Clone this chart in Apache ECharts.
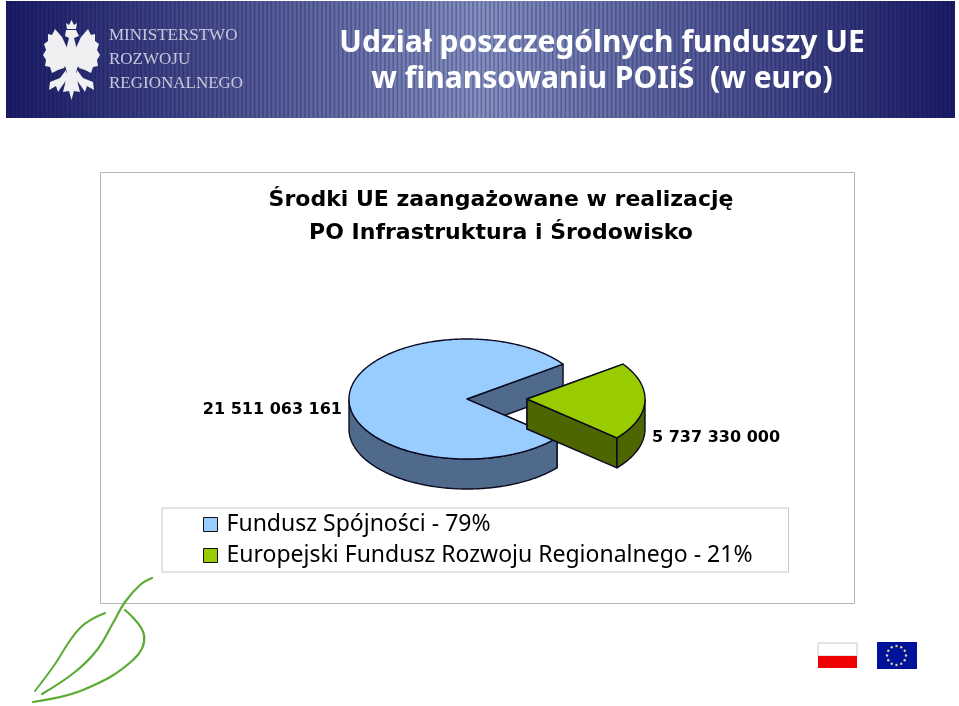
<!DOCTYPE html>
<html>
<head>
<meta charset="utf-8">
<script src="https://cdn.jsdelivr.net/npm/echarts@6/dist/echarts.min.js"></script>
<style>
html, body { margin: 0; padding: 0; background: #fff; }
#main { width: 959px; height: 706px; }
</style>
</head>
<body>
<div id="main"></div>
<script>
const categories = ["Fundusz Spójności - 79%", "Europejski Fundusz Rozwoju Regionalnego - 21%"]
const fundValues = [21511063161, 5737330000]
const valueLabels = ["21 511 063 161", "5 737 330 000"]
const ministryLines = ["MINISTERSTWO", "ROZWOJU", "REGIONALNEGO"]

const topColors = ["#99ccff", "#99cc00"]
const sideColors = ["#4f6a8a", "#4d6600"]

// pie layout (flattened 3d look)
const cx = 467, cy = 399, rx = 118, ry = 60, depth = 30
const explodeX = [0, 60]
const labelPos = [[-125, 11, "right"], [125, 39, "left"]]
const firstAngle = 40.3
const total = fundValues.reduce((a, b) => a + b, 0)
const edgeColor = "#0a0a20"

const rad = (d) => d * Math.PI / 180

const renderSlice = (params, api) => {
    const i = params.seriesIndex
    const before = fundValues.slice(0, i).reduce((a, b) => a + b, 0)
    const start = firstAngle + before / total * 360
    const end = start + api.value(0) / total * 360
    const x0 = cx + explodeX[i]
    const at = (t, dy) => [x0 + rx * Math.cos(rad(t)), cy + ry * Math.sin(rad(t)) + dy]

    const angles = []
    for (let t = start; t < end; t += 1) angles.push(t)
    angles.push(end)

    const shape = (points, fill) => ({
        type: "polygon",
        shape: { points: points },
        style: { fill: fill, stroke: edgeColor, lineWidth: 1.4, lineJoin: "round" }
    })
    const radial = (t) => shape([[x0, cy], at(t, 0), at(t, depth), [x0, cy + depth]], sideColors[i])

    const front = angles.filter((t) => Math.sin(rad(t)) >= 0)
    const outer = front.map((t) => at(t, 0)).concat(front.slice().reverse().map((t) => at(t, depth)))
    const top = [[x0, cy]].concat(angles.map((t) => at(t, 0)))

    return {
        type: "group",
        children: [
            radial(start),
            radial(end),
            shape(outer, sideColors[i]),
            shape(top, topColors[i]),
            {
                type: "text",
                style: {
                    x: x0 + labelPos[i][0],
                    y: cy + labelPos[i][1],
                    text: valueLabels[i],
                    textAlign: labelPos[i][2],
                    textVerticalAlign: "middle",
                    fill: "#000",
                    font: "bold 16px 'DejaVu Sans'"
                }
            }
        ]
    }
}

// banner stripes
const bannerStripes = []
for (let x = 6; x < 955; x += 4.2) {
    bannerStripes.push({
        type: "rect",
        shape: { x: x, y: 1, width: 1.6, height: 117 },
        style: { fill: "rgba(10,12,70,0.28)" },
        silent: true
    })
}

// rough eagle, drawn as mirrored polygons
const eagleParts = [
    [[68, 50], [62, 37], [55, 29], [52, 35], [48, 34], [48, 41], [44, 44], [46, 50], [43, 55], [46, 60], [45, 66], [50, 67], [52, 73], [58, 70], [64, 68], [68, 60]],
    [[66, 70], [60, 78], [50, 82], [49, 90], [56, 86], [58, 92], [62, 86], [68, 78]]
]
const eagleCentre = [
    [[67, 29], [66, 23], [69, 25], [71.5, 20], [74, 25], [77, 23], [76, 29]],
    [[66, 30], [76, 30], [79, 36], [74, 38], [76, 46], [80, 60], [76, 72], [78, 84], [80, 92], [74, 91], [71.5, 100], [69, 91], [63, 92], [65, 84], [67, 72], [63, 60], [67, 46], [69, 38], [65, 36]]
]
const mirror = (pts) => pts.map((p) => [143 - p[0], p[1]])
const eagle = eagleParts.concat(eagleParts.map(mirror)).concat(eagleCentre).map((pts) => ({
    type: "polygon",
    shape: { points: pts },
    style: { fill: "#f0f0f2" }
}))

const leafLine = (points, width) => ({
    type: "polyline",
    shape: { points: points, smooth: 0.4 },
    style: { stroke: "#5bab35", lineWidth: width, fill: null, lineCap: "round" }
})

const euStars = []
for (let a = 0; a < 360; a += 30) {
    euStars.push({
        type: "circle",
        shape: { cx: 896.5 + 9.5 * Math.cos(rad(a)), cy: 655.5 + 9.5 * Math.sin(rad(a)), r: 1.2 },
        style: { fill: "#d8d8a0" }
    })
}

const option = {
    animation: false,
    backgroundColor: "#fff",
    title: [
        {
            text: "Udział poszczególnych funduszy UE\nw finansowaniu POIiŚ  (w euro)",
            left: 597,
            top: 20,
            textAlign: "center",
            textStyle: { color: "#fff", fontFamily: "Noto Sans", fontWeight: "bold", fontSize: 30, lineHeight: 36 }
        },
        {
            text: "Środki UE zaangażowane w realizację\nPO Infrastruktura i Środowisko",
            left: 496,
            top: 179,
            textAlign: "center",
            textStyle: { color: "#000", fontFamily: "DejaVu Sans", fontWeight: "bold", fontSize: 22, lineHeight: 33 }
        }
    ],
    legend: {
        data: categories,
        orient: "vertical",
        left: 162,
        top: 508,
        icon: "rect",
        itemWidth: 14,
        itemHeight: 14,
        itemGap: 8,
        padding: [5, 36, 5, 41],
        borderColor: "#c8c8c8",
        borderWidth: 1,
        selectedMode: false,
        itemStyle: { borderColor: "#111", borderWidth: 1 },
        textStyle: { color: "#000", fontFamily: "Noto Sans", fontSize: 23, padding: [0, 0, 0, 4] }
    },
    graphic: {
        elements: [
            {
                type: "rect",
                shape: { x: 6, y: 1, width: 949, height: 117 },
                style: {
                    fill: {
                        type: "linear", x: 0, y: 0, x2: 1, y2: 0,
                        colorStops: [
                            { offset: 0, color: "#1a1c66" },
                            { offset: 0.5, color: "#8490c0" },
                            { offset: 1, color: "#1a1c66" }
                        ]
                    }
                }
            },
            ...bannerStripes,
            ...eagle,
            ...ministryLines.map((line, k) => ({
                type: "text",
                style: {
                    x: 109,
                    y: 36 + k * 24,
                    text: line,
                    textVerticalAlign: "middle",
                    fill: "#c8cadb",
                    font: "17px 'Liberation Serif'"
                }
            })),
            {
                type: "rect",
                shape: { x: 100.5, y: 172.5, width: 754, height: 431 },
                style: { fill: "#fff", stroke: "#b4b4b4", lineWidth: 1 }
            },
            leafLine([[152, 578], [140, 585], [125, 602], [113, 623], [97, 650], [75, 672], [42, 694]], 2.2),
            leafLine([[105, 613], [80, 628], [53, 667], [35, 691]], 2),
            leafLine([[125, 610], [144, 635], [133, 660], [83, 690], [33, 702]], 2.2),
            {
                type: "rect",
                shape: { x: 818, y: 643, width: 39, height: 13 },
                style: { fill: "#fff", stroke: "#c8c8c8", lineWidth: 1 }
            },
            {
                type: "rect",
                shape: { x: 818, y: 656, width: 39, height: 12 },
                style: { fill: "#f00000" }
            },
            {
                type: "rect",
                shape: { x: 877, y: 642, width: 40, height: 27 },
                style: { fill: "#00129a" }
            },
            ...euStars
        ]
    },
    series: categories.map((name, i) => ({
        name: name,
        type: "custom",
        coordinateSystem: "none",
        renderItem: renderSlice,
        itemStyle: { color: topColors[i] },
        data: [[fundValues[i]]]
    }))
}

const chart = echarts.init(document.getElementById("main"))
chart.setOption(option)
</script>
</body>
</html>
